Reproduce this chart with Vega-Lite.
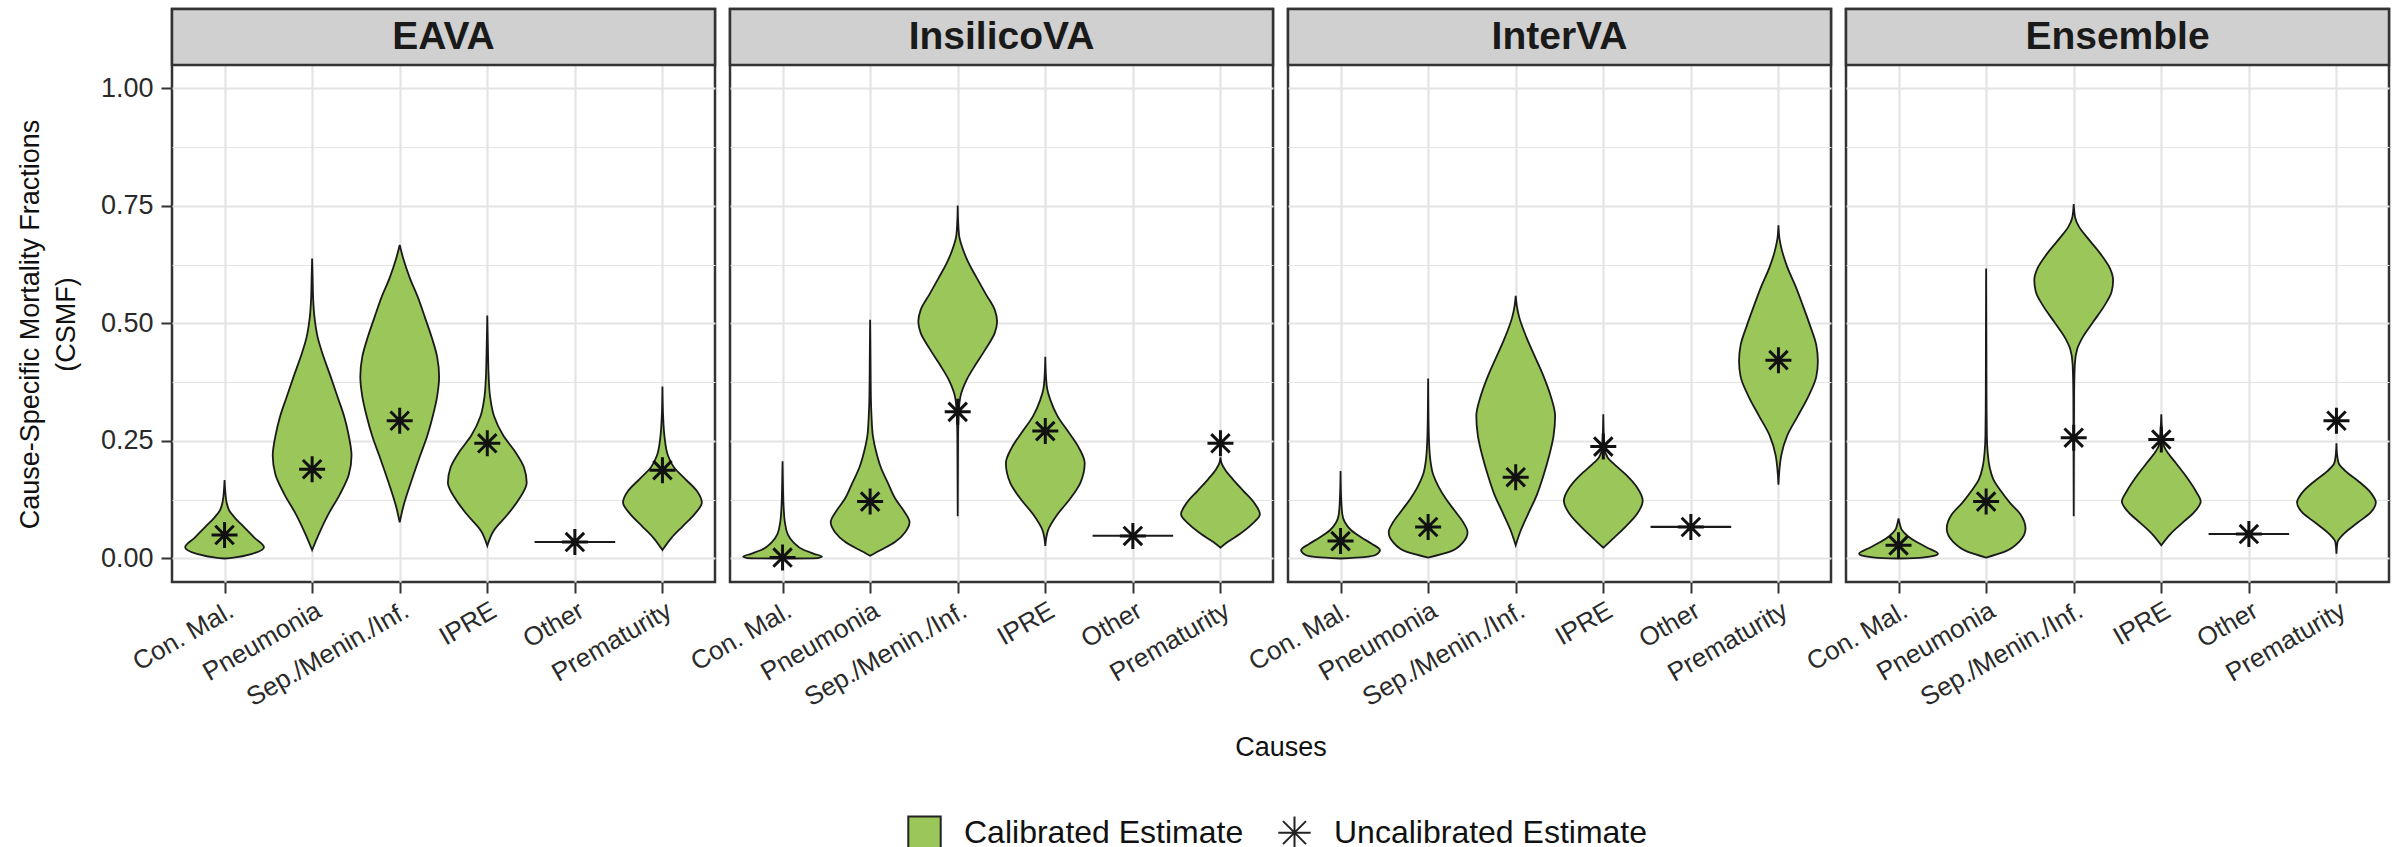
{
"$schema": "https://vega.github.io/schema/vega-lite/v6.json",
"padding": {"left": 16, "top": 6, "right": 18, "bottom": 0},
"bounds": "flush",
"config": {
  "font": "Liberation Sans",
  "view": {"stroke": "#333333", "strokeWidth": 2.5}
},
"datasets": {
"v": [
{"method":"EAVA","cause":"Con. Mal.","series":"Calibrated Estimate","value":0,"density":0},
{"method":"EAVA","cause":"Con. Mal.","series":"Calibrated Estimate","value":0.002,"density":0.23},
{"method":"EAVA","cause":"Con. Mal.","series":"Calibrated Estimate","value":0.01,"density":0.7},
{"method":"EAVA","cause":"Con. Mal.","series":"Calibrated Estimate","value":0.024,"density":1},
{"method":"EAVA","cause":"Con. Mal.","series":"Calibrated Estimate","value":0.044,"density":0.76},
{"method":"EAVA","cause":"Con. Mal.","series":"Calibrated Estimate","value":0.069,"density":0.47},
{"method":"EAVA","cause":"Con. Mal.","series":"Calibrated Estimate","value":0.085,"density":0.28},
{"method":"EAVA","cause":"Con. Mal.","series":"Calibrated Estimate","value":0.102,"density":0.12},
{"method":"EAVA","cause":"Con. Mal.","series":"Calibrated Estimate","value":0.12,"density":0.05},
{"method":"EAVA","cause":"Con. Mal.","series":"Calibrated Estimate","value":0.14,"density":0.02},
{"method":"EAVA","cause":"Con. Mal.","series":"Calibrated Estimate","value":0.167,"density":0},
{"method":"EAVA","cause":"Pneumonia","series":"Calibrated Estimate","value":0.018,"density":0},
{"method":"EAVA","cause":"Pneumonia","series":"Calibrated Estimate","value":0.052,"density":0.17},
{"method":"EAVA","cause":"Pneumonia","series":"Calibrated Estimate","value":0.094,"density":0.41},
{"method":"EAVA","cause":"Pneumonia","series":"Calibrated Estimate","value":0.136,"density":0.7},
{"method":"EAVA","cause":"Pneumonia","series":"Calibrated Estimate","value":0.178,"density":0.93},
{"method":"EAVA","cause":"Pneumonia","series":"Calibrated Estimate","value":0.219,"density":1},
{"method":"EAVA","cause":"Pneumonia","series":"Calibrated Estimate","value":0.261,"density":0.93},
{"method":"EAVA","cause":"Pneumonia","series":"Calibrated Estimate","value":0.303,"density":0.81},
{"method":"EAVA","cause":"Pneumonia","series":"Calibrated Estimate","value":0.345,"density":0.64},
{"method":"EAVA","cause":"Pneumonia","series":"Calibrated Estimate","value":0.387,"density":0.47},
{"method":"EAVA","cause":"Pneumonia","series":"Calibrated Estimate","value":0.429,"density":0.29},
{"method":"EAVA","cause":"Pneumonia","series":"Calibrated Estimate","value":0.471,"density":0.14},
{"method":"EAVA","cause":"Pneumonia","series":"Calibrated Estimate","value":0.513,"density":0.06},
{"method":"EAVA","cause":"Pneumonia","series":"Calibrated Estimate","value":0.554,"density":0.025},
{"method":"EAVA","cause":"Pneumonia","series":"Calibrated Estimate","value":0.6,"density":0.012},
{"method":"EAVA","cause":"Pneumonia","series":"Calibrated Estimate","value":0.638,"density":0},
{"method":"EAVA","cause":"Sep./Menin./Inf.","series":"Calibrated Estimate","value":0.077,"density":0},
{"method":"EAVA","cause":"Sep./Menin./Inf.","series":"Calibrated Estimate","value":0.11,"density":0.09},
{"method":"EAVA","cause":"Sep./Menin./Inf.","series":"Calibrated Estimate","value":0.178,"density":0.35},
{"method":"EAVA","cause":"Sep./Menin./Inf.","series":"Calibrated Estimate","value":0.219,"density":0.52},
{"method":"EAVA","cause":"Sep./Menin./Inf.","series":"Calibrated Estimate","value":0.261,"density":0.7},
{"method":"EAVA","cause":"Sep./Menin./Inf.","series":"Calibrated Estimate","value":0.303,"density":0.84},
{"method":"EAVA","cause":"Sep./Menin./Inf.","series":"Calibrated Estimate","value":0.345,"density":0.95},
{"method":"EAVA","cause":"Sep./Menin./Inf.","series":"Calibrated Estimate","value":0.387,"density":1},
{"method":"EAVA","cause":"Sep./Menin./Inf.","series":"Calibrated Estimate","value":0.429,"density":0.95},
{"method":"EAVA","cause":"Sep./Menin./Inf.","series":"Calibrated Estimate","value":0.471,"density":0.81},
{"method":"EAVA","cause":"Sep./Menin./Inf.","series":"Calibrated Estimate","value":0.513,"density":0.64},
{"method":"EAVA","cause":"Sep./Menin./Inf.","series":"Calibrated Estimate","value":0.554,"density":0.47},
{"method":"EAVA","cause":"Sep./Menin./Inf.","series":"Calibrated Estimate","value":0.596,"density":0.26},
{"method":"EAVA","cause":"Sep./Menin./Inf.","series":"Calibrated Estimate","value":0.638,"density":0.09},
{"method":"EAVA","cause":"Sep./Menin./Inf.","series":"Calibrated Estimate","value":0.667,"density":0},
{"method":"EAVA","cause":"IPRE","series":"Calibrated Estimate","value":0.027,"density":0},
{"method":"EAVA","cause":"IPRE","series":"Calibrated Estimate","value":0.06,"density":0.17},
{"method":"EAVA","cause":"IPRE","series":"Calibrated Estimate","value":0.094,"density":0.52},
{"method":"EAVA","cause":"IPRE","series":"Calibrated Estimate","value":0.127,"density":0.81},
{"method":"EAVA","cause":"IPRE","series":"Calibrated Estimate","value":0.161,"density":1},
{"method":"EAVA","cause":"IPRE","series":"Calibrated Estimate","value":0.194,"density":0.93},
{"method":"EAVA","cause":"IPRE","series":"Calibrated Estimate","value":0.228,"density":0.7},
{"method":"EAVA","cause":"IPRE","series":"Calibrated Estimate","value":0.261,"density":0.41},
{"method":"EAVA","cause":"IPRE","series":"Calibrated Estimate","value":0.303,"density":0.17},
{"method":"EAVA","cause":"IPRE","series":"Calibrated Estimate","value":0.345,"density":0.07},
{"method":"EAVA","cause":"IPRE","series":"Calibrated Estimate","value":0.387,"density":0.035},
{"method":"EAVA","cause":"IPRE","series":"Calibrated Estimate","value":0.43,"density":0.02},
{"method":"EAVA","cause":"IPRE","series":"Calibrated Estimate","value":0.517,"density":0},
{"method":"EAVA","cause":"Other","series":"Calibrated Estimate","value":0.035,"density":1},
{"method":"EAVA","cause":"Other","series":"Calibrated Estimate","value":0.0355,"density":1},
{"method":"EAVA","cause":"Prematurity","series":"Calibrated Estimate","value":0.018,"density":0},
{"method":"EAVA","cause":"Prematurity","series":"Calibrated Estimate","value":0.044,"density":0.23},
{"method":"EAVA","cause":"Prematurity","series":"Calibrated Estimate","value":0.069,"density":0.52},
{"method":"EAVA","cause":"Prematurity","series":"Calibrated Estimate","value":0.094,"density":0.81},
{"method":"EAVA","cause":"Prematurity","series":"Calibrated Estimate","value":0.119,"density":1},
{"method":"EAVA","cause":"Prematurity","series":"Calibrated Estimate","value":0.144,"density":0.87},
{"method":"EAVA","cause":"Prematurity","series":"Calibrated Estimate","value":0.169,"density":0.58},
{"method":"EAVA","cause":"Prematurity","series":"Calibrated Estimate","value":0.194,"density":0.29},
{"method":"EAVA","cause":"Prematurity","series":"Calibrated Estimate","value":0.219,"density":0.14},
{"method":"EAVA","cause":"Prematurity","series":"Calibrated Estimate","value":0.261,"density":0.05},
{"method":"EAVA","cause":"Prematurity","series":"Calibrated Estimate","value":0.303,"density":0.017},
{"method":"EAVA","cause":"Prematurity","series":"Calibrated Estimate","value":0.366,"density":0},

{"method":"InsilicoVA","cause":"Con. Mal.","series":"Calibrated Estimate","value":0.0,"density":0},
{"method":"InsilicoVA","cause":"Con. Mal.","series":"Calibrated Estimate","value":0.001,"density":0.9},
{"method":"InsilicoVA","cause":"Con. Mal.","series":"Calibrated Estimate","value":0.004,"density":1},
{"method":"InsilicoVA","cause":"Con. Mal.","series":"Calibrated Estimate","value":0.01,"density":0.8},
{"method":"InsilicoVA","cause":"Con. Mal.","series":"Calibrated Estimate","value":0.018,"density":0.54},
{"method":"InsilicoVA","cause":"Con. Mal.","series":"Calibrated Estimate","value":0.035,"density":0.27},
{"method":"InsilicoVA","cause":"Con. Mal.","series":"Calibrated Estimate","value":0.052,"density":0.13},
{"method":"InsilicoVA","cause":"Con. Mal.","series":"Calibrated Estimate","value":0.077,"density":0.06},
{"method":"InsilicoVA","cause":"Con. Mal.","series":"Calibrated Estimate","value":0.11,"density":0.027},
{"method":"InsilicoVA","cause":"Con. Mal.","series":"Calibrated Estimate","value":0.16,"density":0.01},
{"method":"InsilicoVA","cause":"Con. Mal.","series":"Calibrated Estimate","value":0.207,"density":0},
{"method":"InsilicoVA","cause":"Pneumonia","series":"Calibrated Estimate","value":0.006,"density":0},
{"method":"InsilicoVA","cause":"Pneumonia","series":"Calibrated Estimate","value":0.018,"density":0.27},
{"method":"InsilicoVA","cause":"Pneumonia","series":"Calibrated Estimate","value":0.035,"density":0.63},
{"method":"InsilicoVA","cause":"Pneumonia","series":"Calibrated Estimate","value":0.056,"density":0.89},
{"method":"InsilicoVA","cause":"Pneumonia","series":"Calibrated Estimate","value":0.077,"density":1},
{"method":"InsilicoVA","cause":"Pneumonia","series":"Calibrated Estimate","value":0.102,"density":0.85},
{"method":"InsilicoVA","cause":"Pneumonia","series":"Calibrated Estimate","value":0.127,"density":0.64},
{"method":"InsilicoVA","cause":"Pneumonia","series":"Calibrated Estimate","value":0.161,"density":0.45},
{"method":"InsilicoVA","cause":"Pneumonia","series":"Calibrated Estimate","value":0.194,"density":0.27},
{"method":"InsilicoVA","cause":"Pneumonia","series":"Calibrated Estimate","value":0.228,"density":0.15},
{"method":"InsilicoVA","cause":"Pneumonia","series":"Calibrated Estimate","value":0.261,"density":0.07},
{"method":"InsilicoVA","cause":"Pneumonia","series":"Calibrated Estimate","value":0.303,"density":0.035},
{"method":"InsilicoVA","cause":"Pneumonia","series":"Calibrated Estimate","value":0.345,"density":0.018},
{"method":"InsilicoVA","cause":"Pneumonia","series":"Calibrated Estimate","value":0.43,"density":0.009},
{"method":"InsilicoVA","cause":"Pneumonia","series":"Calibrated Estimate","value":0.508,"density":0},
{"method":"InsilicoVA","cause":"Sep./Menin./Inf.","series":"Calibrated Estimate","value":0.09,"density":0},
{"method":"InsilicoVA","cause":"Sep./Menin./Inf.","series":"Calibrated Estimate","value":0.261,"density":0.009},
{"method":"InsilicoVA","cause":"Sep./Menin./Inf.","series":"Calibrated Estimate","value":0.312,"density":0.027},
{"method":"InsilicoVA","cause":"Sep./Menin./Inf.","series":"Calibrated Estimate","value":0.345,"density":0.07},
{"method":"InsilicoVA","cause":"Sep./Menin./Inf.","series":"Calibrated Estimate","value":0.379,"density":0.22},
{"method":"InsilicoVA","cause":"Sep./Menin./Inf.","series":"Calibrated Estimate","value":0.412,"density":0.45},
{"method":"InsilicoVA","cause":"Sep./Menin./Inf.","series":"Calibrated Estimate","value":0.446,"density":0.71},
{"method":"InsilicoVA","cause":"Sep./Menin./Inf.","series":"Calibrated Estimate","value":0.48,"density":0.94},
{"method":"InsilicoVA","cause":"Sep./Menin./Inf.","series":"Calibrated Estimate","value":0.504,"density":1},
{"method":"InsilicoVA","cause":"Sep./Menin./Inf.","series":"Calibrated Estimate","value":0.529,"density":0.94},
{"method":"InsilicoVA","cause":"Sep./Menin./Inf.","series":"Calibrated Estimate","value":0.563,"density":0.71},
{"method":"InsilicoVA","cause":"Sep./Menin./Inf.","series":"Calibrated Estimate","value":0.596,"density":0.49},
{"method":"InsilicoVA","cause":"Sep./Menin./Inf.","series":"Calibrated Estimate","value":0.63,"density":0.27},
{"method":"InsilicoVA","cause":"Sep./Menin./Inf.","series":"Calibrated Estimate","value":0.663,"density":0.11},
{"method":"InsilicoVA","cause":"Sep./Menin./Inf.","series":"Calibrated Estimate","value":0.687,"density":0.036},
{"method":"InsilicoVA","cause":"Sep./Menin./Inf.","series":"Calibrated Estimate","value":0.72,"density":0.009},
{"method":"InsilicoVA","cause":"Sep./Menin./Inf.","series":"Calibrated Estimate","value":0.751,"density":0},
{"method":"InsilicoVA","cause":"IPRE","series":"Calibrated Estimate","value":0.027,"density":0},
{"method":"InsilicoVA","cause":"IPRE","series":"Calibrated Estimate","value":0.06,"density":0.07},
{"method":"InsilicoVA","cause":"IPRE","series":"Calibrated Estimate","value":0.094,"density":0.31},
{"method":"InsilicoVA","cause":"IPRE","series":"Calibrated Estimate","value":0.127,"density":0.63},
{"method":"InsilicoVA","cause":"IPRE","series":"Calibrated Estimate","value":0.161,"density":0.89},
{"method":"InsilicoVA","cause":"IPRE","series":"Calibrated Estimate","value":0.203,"density":1},
{"method":"InsilicoVA","cause":"IPRE","series":"Calibrated Estimate","value":0.236,"density":0.85},
{"method":"InsilicoVA","cause":"IPRE","series":"Calibrated Estimate","value":0.27,"density":0.58},
{"method":"InsilicoVA","cause":"IPRE","series":"Calibrated Estimate","value":0.303,"density":0.31},
{"method":"InsilicoVA","cause":"IPRE","series":"Calibrated Estimate","value":0.337,"density":0.13},
{"method":"InsilicoVA","cause":"IPRE","series":"Calibrated Estimate","value":0.362,"density":0.045},
{"method":"InsilicoVA","cause":"IPRE","series":"Calibrated Estimate","value":0.387,"density":0.018},
{"method":"InsilicoVA","cause":"IPRE","series":"Calibrated Estimate","value":0.429,"density":0},
{"method":"InsilicoVA","cause":"Other","series":"Calibrated Estimate","value":0.048,"density":1},
{"method":"InsilicoVA","cause":"Other","series":"Calibrated Estimate","value":0.0485,"density":1},
{"method":"InsilicoVA","cause":"Prematurity","series":"Calibrated Estimate","value":0.023,"density":0},
{"method":"InsilicoVA","cause":"Prematurity","series":"Calibrated Estimate","value":0.035,"density":0.18},
{"method":"InsilicoVA","cause":"Prematurity","series":"Calibrated Estimate","value":0.052,"density":0.49},
{"method":"InsilicoVA","cause":"Prematurity","series":"Calibrated Estimate","value":0.073,"density":0.8},
{"method":"InsilicoVA","cause":"Prematurity","series":"Calibrated Estimate","value":0.094,"density":1},
{"method":"InsilicoVA","cause":"Prematurity","series":"Calibrated Estimate","value":0.119,"density":0.85},
{"method":"InsilicoVA","cause":"Prematurity","series":"Calibrated Estimate","value":0.144,"density":0.58},
{"method":"InsilicoVA","cause":"Prematurity","series":"Calibrated Estimate","value":0.169,"density":0.31},
{"method":"InsilicoVA","cause":"Prematurity","series":"Calibrated Estimate","value":0.19,"density":0.11},
{"method":"InsilicoVA","cause":"Prematurity","series":"Calibrated Estimate","value":0.203,"density":0.027},
{"method":"InsilicoVA","cause":"Prematurity","series":"Calibrated Estimate","value":0.215,"density":0},

{"method":"InterVA","cause":"Con. Mal.","series":"Calibrated Estimate","value":0.0,"density":0},
{"method":"InterVA","cause":"Con. Mal.","series":"Calibrated Estimate","value":0.003,"density":0.6},
{"method":"InterVA","cause":"Con. Mal.","series":"Calibrated Estimate","value":0.008,"density":0.9},
{"method":"InterVA","cause":"Con. Mal.","series":"Calibrated Estimate","value":0.018,"density":1},
{"method":"InterVA","cause":"Con. Mal.","series":"Calibrated Estimate","value":0.031,"density":0.8},
{"method":"InterVA","cause":"Con. Mal.","series":"Calibrated Estimate","value":0.044,"density":0.54},
{"method":"InterVA","cause":"Con. Mal.","series":"Calibrated Estimate","value":0.06,"density":0.27},
{"method":"InterVA","cause":"Con. Mal.","series":"Calibrated Estimate","value":0.077,"density":0.11},
{"method":"InterVA","cause":"Con. Mal.","series":"Calibrated Estimate","value":0.094,"density":0.045},
{"method":"InterVA","cause":"Con. Mal.","series":"Calibrated Estimate","value":0.13,"density":0.015},
{"method":"InterVA","cause":"Con. Mal.","series":"Calibrated Estimate","value":0.186,"density":0},
{"method":"InterVA","cause":"Pneumonia","series":"Calibrated Estimate","value":0.002,"density":0},
{"method":"InterVA","cause":"Pneumonia","series":"Calibrated Estimate","value":0.014,"density":0.54},
{"method":"InterVA","cause":"Pneumonia","series":"Calibrated Estimate","value":0.035,"density":0.89},
{"method":"InterVA","cause":"Pneumonia","series":"Calibrated Estimate","value":0.056,"density":1},
{"method":"InterVA","cause":"Pneumonia","series":"Calibrated Estimate","value":0.077,"density":0.89},
{"method":"InterVA","cause":"Pneumonia","series":"Calibrated Estimate","value":0.102,"density":0.67},
{"method":"InterVA","cause":"Pneumonia","series":"Calibrated Estimate","value":0.127,"density":0.45},
{"method":"InterVA","cause":"Pneumonia","series":"Calibrated Estimate","value":0.152,"density":0.27},
{"method":"InterVA","cause":"Pneumonia","series":"Calibrated Estimate","value":0.178,"density":0.13},
{"method":"InterVA","cause":"Pneumonia","series":"Calibrated Estimate","value":0.211,"density":0.054},
{"method":"InterVA","cause":"Pneumonia","series":"Calibrated Estimate","value":0.261,"density":0.018},
{"method":"InterVA","cause":"Pneumonia","series":"Calibrated Estimate","value":0.33,"density":0.005},
{"method":"InterVA","cause":"Pneumonia","series":"Calibrated Estimate","value":0.383,"density":0},
{"method":"InterVA","cause":"Sep./Menin./Inf.","series":"Calibrated Estimate","value":0.028,"density":0},
{"method":"InterVA","cause":"Sep./Menin./Inf.","series":"Calibrated Estimate","value":0.06,"density":0.13},
{"method":"InterVA","cause":"Sep./Menin./Inf.","series":"Calibrated Estimate","value":0.094,"density":0.31},
{"method":"InterVA","cause":"Sep./Menin./Inf.","series":"Calibrated Estimate","value":0.136,"density":0.54},
{"method":"InterVA","cause":"Sep./Menin./Inf.","series":"Calibrated Estimate","value":0.178,"density":0.71},
{"method":"InterVA","cause":"Sep./Menin./Inf.","series":"Calibrated Estimate","value":0.219,"density":0.85},
{"method":"InterVA","cause":"Sep./Menin./Inf.","series":"Calibrated Estimate","value":0.261,"density":0.96},
{"method":"InterVA","cause":"Sep./Menin./Inf.","series":"Calibrated Estimate","value":0.303,"density":1},
{"method":"InterVA","cause":"Sep./Menin./Inf.","series":"Calibrated Estimate","value":0.345,"density":0.89},
{"method":"InterVA","cause":"Sep./Menin./Inf.","series":"Calibrated Estimate","value":0.387,"density":0.71},
{"method":"InterVA","cause":"Sep./Menin./Inf.","series":"Calibrated Estimate","value":0.429,"density":0.49},
{"method":"InterVA","cause":"Sep./Menin./Inf.","series":"Calibrated Estimate","value":0.471,"density":0.27},
{"method":"InterVA","cause":"Sep./Menin./Inf.","series":"Calibrated Estimate","value":0.513,"density":0.09},
{"method":"InterVA","cause":"Sep./Menin./Inf.","series":"Calibrated Estimate","value":0.538,"density":0.027},
{"method":"InterVA","cause":"Sep./Menin./Inf.","series":"Calibrated Estimate","value":0.559,"density":0},
{"method":"InterVA","cause":"IPRE","series":"Calibrated Estimate","value":0.023,"density":0},
{"method":"InterVA","cause":"IPRE","series":"Calibrated Estimate","value":0.044,"density":0.27},
{"method":"InterVA","cause":"IPRE","series":"Calibrated Estimate","value":0.069,"density":0.58},
{"method":"InterVA","cause":"IPRE","series":"Calibrated Estimate","value":0.094,"density":0.85},
{"method":"InterVA","cause":"IPRE","series":"Calibrated Estimate","value":0.123,"density":1},
{"method":"InterVA","cause":"IPRE","series":"Calibrated Estimate","value":0.152,"density":0.85},
{"method":"InterVA","cause":"IPRE","series":"Calibrated Estimate","value":0.178,"density":0.58},
{"method":"InterVA","cause":"IPRE","series":"Calibrated Estimate","value":0.198,"density":0.31},
{"method":"InterVA","cause":"IPRE","series":"Calibrated Estimate","value":0.215,"density":0.11},
{"method":"InterVA","cause":"IPRE","series":"Calibrated Estimate","value":0.236,"density":0.027},
{"method":"InterVA","cause":"IPRE","series":"Calibrated Estimate","value":0.307,"density":0},
{"method":"InterVA","cause":"Other","series":"Calibrated Estimate","value":0.067,"density":1},
{"method":"InterVA","cause":"Other","series":"Calibrated Estimate","value":0.0675,"density":1},
{"method":"InterVA","cause":"Prematurity","series":"Calibrated Estimate","value":0.157,"density":0},
{"method":"InterVA","cause":"Prematurity","series":"Calibrated Estimate","value":0.219,"density":0.07},
{"method":"InterVA","cause":"Prematurity","series":"Calibrated Estimate","value":0.261,"density":0.22},
{"method":"InterVA","cause":"Prematurity","series":"Calibrated Estimate","value":0.303,"density":0.49},
{"method":"InterVA","cause":"Prematurity","series":"Calibrated Estimate","value":0.345,"density":0.76},
{"method":"InterVA","cause":"Prematurity","series":"Calibrated Estimate","value":0.387,"density":0.96},
{"method":"InterVA","cause":"Prematurity","series":"Calibrated Estimate","value":0.42,"density":1},
{"method":"InterVA","cause":"Prematurity","series":"Calibrated Estimate","value":0.454,"density":0.96},
{"method":"InterVA","cause":"Prematurity","series":"Calibrated Estimate","value":0.496,"density":0.8},
{"method":"InterVA","cause":"Prematurity","series":"Calibrated Estimate","value":0.538,"density":0.62},
{"method":"InterVA","cause":"Prematurity","series":"Calibrated Estimate","value":0.58,"density":0.43},
{"method":"InterVA","cause":"Prematurity","series":"Calibrated Estimate","value":0.621,"density":0.22},
{"method":"InterVA","cause":"Prematurity","series":"Calibrated Estimate","value":0.655,"density":0.09},
{"method":"InterVA","cause":"Prematurity","series":"Calibrated Estimate","value":0.68,"density":0.027},
{"method":"InterVA","cause":"Prematurity","series":"Calibrated Estimate","value":0.709,"density":0},

{"method":"Ensemble","cause":"Con. Mal.","series":"Calibrated Estimate","value":0.0,"density":0},
{"method":"Ensemble","cause":"Con. Mal.","series":"Calibrated Estimate","value":0.002,"density":0.6},
{"method":"Ensemble","cause":"Con. Mal.","series":"Calibrated Estimate","value":0.006,"density":0.92},
{"method":"Ensemble","cause":"Con. Mal.","series":"Calibrated Estimate","value":0.01,"density":1},
{"method":"Ensemble","cause":"Con. Mal.","series":"Calibrated Estimate","value":0.023,"density":0.73},
{"method":"Ensemble","cause":"Con. Mal.","series":"Calibrated Estimate","value":0.035,"density":0.46},
{"method":"Ensemble","cause":"Con. Mal.","series":"Calibrated Estimate","value":0.048,"density":0.23},
{"method":"Ensemble","cause":"Con. Mal.","series":"Calibrated Estimate","value":0.06,"density":0.09},
{"method":"Ensemble","cause":"Con. Mal.","series":"Calibrated Estimate","value":0.075,"density":0.027},
{"method":"Ensemble","cause":"Con. Mal.","series":"Calibrated Estimate","value":0.085,"density":0},
{"method":"Ensemble","cause":"Pneumonia","series":"Calibrated Estimate","value":0.002,"density":0},
{"method":"Ensemble","cause":"Pneumonia","series":"Calibrated Estimate","value":0.014,"density":0.46},
{"method":"Ensemble","cause":"Pneumonia","series":"Calibrated Estimate","value":0.035,"density":0.83},
{"method":"Ensemble","cause":"Pneumonia","series":"Calibrated Estimate","value":0.064,"density":1},
{"method":"Ensemble","cause":"Pneumonia","series":"Calibrated Estimate","value":0.094,"density":0.87},
{"method":"Ensemble","cause":"Pneumonia","series":"Calibrated Estimate","value":0.119,"density":0.6},
{"method":"Ensemble","cause":"Pneumonia","series":"Calibrated Estimate","value":0.144,"density":0.37},
{"method":"Ensemble","cause":"Pneumonia","series":"Calibrated Estimate","value":0.169,"density":0.18},
{"method":"Ensemble","cause":"Pneumonia","series":"Calibrated Estimate","value":0.194,"density":0.09},
{"method":"Ensemble","cause":"Pneumonia","series":"Calibrated Estimate","value":0.228,"density":0.037},
{"method":"Ensemble","cause":"Pneumonia","series":"Calibrated Estimate","value":0.261,"density":0.018},
{"method":"Ensemble","cause":"Pneumonia","series":"Calibrated Estimate","value":0.345,"density":0.009},
{"method":"Ensemble","cause":"Pneumonia","series":"Calibrated Estimate","value":0.45,"density":0.006},
{"method":"Ensemble","cause":"Pneumonia","series":"Calibrated Estimate","value":0.617,"density":0},
{"method":"Ensemble","cause":"Sep./Menin./Inf.","series":"Calibrated Estimate","value":0.09,"density":0},
{"method":"Ensemble","cause":"Sep./Menin./Inf.","series":"Calibrated Estimate","value":0.345,"density":0.009},
{"method":"Ensemble","cause":"Sep./Menin./Inf.","series":"Calibrated Estimate","value":0.412,"density":0.027},
{"method":"Ensemble","cause":"Sep./Menin./Inf.","series":"Calibrated Estimate","value":0.446,"density":0.09},
{"method":"Ensemble","cause":"Sep./Menin./Inf.","series":"Calibrated Estimate","value":0.471,"density":0.23},
{"method":"Ensemble","cause":"Sep./Menin./Inf.","series":"Calibrated Estimate","value":0.504,"density":0.5},
{"method":"Ensemble","cause":"Sep./Menin./Inf.","series":"Calibrated Estimate","value":0.538,"density":0.78},
{"method":"Ensemble","cause":"Sep./Menin./Inf.","series":"Calibrated Estimate","value":0.567,"density":0.96},
{"method":"Ensemble","cause":"Sep./Menin./Inf.","series":"Calibrated Estimate","value":0.592,"density":1},
{"method":"Ensemble","cause":"Sep./Menin./Inf.","series":"Calibrated Estimate","value":0.617,"density":0.92},
{"method":"Ensemble","cause":"Sep./Menin./Inf.","series":"Calibrated Estimate","value":0.647,"density":0.69},
{"method":"Ensemble","cause":"Sep./Menin./Inf.","series":"Calibrated Estimate","value":0.68,"density":0.37},
{"method":"Ensemble","cause":"Sep./Menin./Inf.","series":"Calibrated Estimate","value":0.705,"density":0.14},
{"method":"Ensemble","cause":"Sep./Menin./Inf.","series":"Calibrated Estimate","value":0.725,"density":0.037},
{"method":"Ensemble","cause":"Sep./Menin./Inf.","series":"Calibrated Estimate","value":0.754,"density":0},
{"method":"Ensemble","cause":"IPRE","series":"Calibrated Estimate","value":0.028,"density":0},
{"method":"Ensemble","cause":"IPRE","series":"Calibrated Estimate","value":0.052,"density":0.23},
{"method":"Ensemble","cause":"IPRE","series":"Calibrated Estimate","value":0.077,"density":0.55},
{"method":"Ensemble","cause":"IPRE","series":"Calibrated Estimate","value":0.098,"density":0.83},
{"method":"Ensemble","cause":"IPRE","series":"Calibrated Estimate","value":0.121,"density":1},
{"method":"Ensemble","cause":"IPRE","series":"Calibrated Estimate","value":0.144,"density":0.87},
{"method":"Ensemble","cause":"IPRE","series":"Calibrated Estimate","value":0.178,"density":0.6},
{"method":"Ensemble","cause":"IPRE","series":"Calibrated Estimate","value":0.203,"density":0.37},
{"method":"Ensemble","cause":"IPRE","series":"Calibrated Estimate","value":0.228,"density":0.14},
{"method":"Ensemble","cause":"IPRE","series":"Calibrated Estimate","value":0.245,"density":0.045},
{"method":"Ensemble","cause":"IPRE","series":"Calibrated Estimate","value":0.307,"density":0},
{"method":"Ensemble","cause":"Other","series":"Calibrated Estimate","value":0.052,"density":1},
{"method":"Ensemble","cause":"Other","series":"Calibrated Estimate","value":0.0525,"density":1},
{"method":"Ensemble","cause":"Prematurity","series":"Calibrated Estimate","value":0.01,"density":0},
{"method":"Ensemble","cause":"Prematurity","series":"Calibrated Estimate","value":0.035,"density":0.027},
{"method":"Ensemble","cause":"Prematurity","series":"Calibrated Estimate","value":0.052,"density":0.18},
{"method":"Ensemble","cause":"Prematurity","series":"Calibrated Estimate","value":0.077,"density":0.55},
{"method":"Ensemble","cause":"Prematurity","series":"Calibrated Estimate","value":0.098,"density":0.87},
{"method":"Ensemble","cause":"Prematurity","series":"Calibrated Estimate","value":0.119,"density":1},
{"method":"Ensemble","cause":"Prematurity","series":"Calibrated Estimate","value":0.14,"density":0.87},
{"method":"Ensemble","cause":"Prematurity","series":"Calibrated Estimate","value":0.165,"density":0.55},
{"method":"Ensemble","cause":"Prematurity","series":"Calibrated Estimate","value":0.186,"density":0.23},
{"method":"Ensemble","cause":"Prematurity","series":"Calibrated Estimate","value":0.203,"density":0.055},
{"method":"Ensemble","cause":"Prematurity","series":"Calibrated Estimate","value":0.22,"density":0.018},
{"method":"Ensemble","cause":"Prematurity","series":"Calibrated Estimate","value":0.245,"density":0},

{"method":"EAVA","cause":"Con. Mal.","series":"Uncalibrated Estimate","value":0.05},
{"method":"EAVA","cause":"Pneumonia","series":"Uncalibrated Estimate","value":0.19},
{"method":"EAVA","cause":"Sep./Menin./Inf.","series":"Uncalibrated Estimate","value":0.293},
{"method":"EAVA","cause":"IPRE","series":"Uncalibrated Estimate","value":0.245},
{"method":"EAVA","cause":"Other","series":"Uncalibrated Estimate","value":0.035},
{"method":"EAVA","cause":"Prematurity","series":"Uncalibrated Estimate","value":0.188},
{"method":"InsilicoVA","cause":"Con. Mal.","series":"Uncalibrated Estimate","value":0.002},
{"method":"InsilicoVA","cause":"Pneumonia","series":"Uncalibrated Estimate","value":0.121},
{"method":"InsilicoVA","cause":"Sep./Menin./Inf.","series":"Uncalibrated Estimate","value":0.312},
{"method":"InsilicoVA","cause":"IPRE","series":"Uncalibrated Estimate","value":0.271},
{"method":"InsilicoVA","cause":"Other","series":"Uncalibrated Estimate","value":0.048},
{"method":"InsilicoVA","cause":"Prematurity","series":"Uncalibrated Estimate","value":0.245},
{"method":"InterVA","cause":"Con. Mal.","series":"Uncalibrated Estimate","value":0.037},
{"method":"InterVA","cause":"Pneumonia","series":"Uncalibrated Estimate","value":0.067},
{"method":"InterVA","cause":"Sep./Menin./Inf.","series":"Uncalibrated Estimate","value":0.173},
{"method":"InterVA","cause":"IPRE","series":"Uncalibrated Estimate","value":0.238},
{"method":"InterVA","cause":"Other","series":"Uncalibrated Estimate","value":0.067},
{"method":"InterVA","cause":"Prematurity","series":"Uncalibrated Estimate","value":0.422},
{"method":"Ensemble","cause":"Con. Mal.","series":"Uncalibrated Estimate","value":0.028},
{"method":"Ensemble","cause":"Pneumonia","series":"Uncalibrated Estimate","value":0.121},
{"method":"Ensemble","cause":"Sep./Menin./Inf.","series":"Uncalibrated Estimate","value":0.257},
{"method":"Ensemble","cause":"IPRE","series":"Uncalibrated Estimate","value":0.253},
{"method":"Ensemble","cause":"Other","series":"Uncalibrated Estimate","value":0.052},
{"method":"Ensemble","cause":"Prematurity","series":"Uncalibrated Estimate","value":0.293},

{"method":"EAVA","series":"Panel"},
{"method":"InsilicoVA","series":"Panel"},
{"method":"InterVA","series":"Panel"},
{"method":"Ensemble","series":"Panel"}
]
},
"data": {"name": "v"},
"transform": [
  {"calculate": "indexof(['Con. Mal.','Pneumonia','Sep./Menin./Inf.','IPRE','Other','Prematurity'], datum.cause) + 1", "as": "pos"},
  {"calculate": "datum.pos - 0.45 * datum.density", "as": "left"},
  {"calculate": "datum.pos + 0.45 * datum.density", "as": "right"}
],
"facet": {
  "column": {
    "field": "method", "type": "nominal",
    "sort": ["EAVA", "InsilicoVA", "InterVA", "Ensemble"],
    "title": "Causes",
    "header": {"labels": false, "titleOrient": "bottom", "titleFontSize": 27, "titleFontWeight": "normal", "titleColor": "#111111", "titlePadding": 14, "titleFont": "Liberation Sans"}
  }
},
"spacing": {"column": 15},
"spec": {
  "width": 543,
  "height": 573,
  "layer": [
    {
      "transform": [{"filter": "datum.series === 'Calibrated Estimate'"}],
      "mark": {"type": "area", "orient": "horizontal", "interpolate": "monotone", "stroke": "#1a1a1a", "strokeWidth": 1.8, "opacity": 1},
      "encoding": {
        "y": {
          "field": "value", "type": "quantitative",
          "title": ["Cause-Specific Mortality Fractions", "(CSMF)"],
          "scale": {"domain": [-0.05, 1.169], "nice": false, "zero": false},
          "axis": {
            "titleFontSize": 27, "titleFontWeight": "normal", "titleColor": "#111111", "titleLineHeight": 36, "titlePadding": 20, "titleY": 315,
            "values": [0, 0.125, 0.25, 0.375, 0.5, 0.625, 0.75, 0.875, 1],
            "labelExpr": "datum.value % 0.25 === 0 ? format(datum.value, '.2f') : ''",
            "labelFontSize": 27, "labelColor": "#2a2a2a", "labelPadding": 8,
            "tickSize": 11, "tickWidth": 2, "tickColor": "#333333",
            "tickOpacity": {"condition": {"test": "datum.value % 0.25 !== 0", "value": 0}, "value": 1},
            "domain": false,
            "grid": true, "gridColor": "#e4e4e4",
            "gridWidth": {"condition": {"test": "datum.value % 0.25 !== 0", "value": 1.2}, "value": 2.2}
          }
        },
        "x": {
          "field": "left", "type": "quantitative",
          "title": null,
          "scale": {"domain": [0.4, 6.6], "nice": false, "zero": false},
          "axis": {
            "values": [1, 2, 3, 4, 5, 6],
            "labelExpr": "['Con. Mal.','Pneumonia','Sep./Menin./Inf.','IPRE','Other','Prematurity'][datum.value - 1]",
            "labelAngle": -30, "labelAlign": "right", "labelBaseline": "top",
            "labelOverlap": false, "labelLimit": 0, "labelBound": false,
            "labelFontSize": 26, "labelColor": "#2a2a2a", "labelPadding": 4,
            "tickSize": 11, "tickWidth": 2, "tickColor": "#333333",
            "domain": false, "grid": true, "gridColor": "#e4e4e4", "gridWidth": 2.2
          }
        },
        "x2": {"field": "right"},
        "detail": {"field": "cause"},
        "fill": {
          "field": "series", "type": "nominal",
          "scale": {"domain": ["Calibrated Estimate", "Uncalibrated Estimate"], "range": ["#9bc75a", "transparent"]},
          "legend": {"title": null, "orient": "none", "legendX": 735, "legendY": 806, "direction": "horizontal", "labelFontSize": 32, "labelLimit": 0, "labelColor": "#111111", "symbolSize": 1050, "symbolStrokeColor": "#222222", "symbolStrokeWidth": 2, "columnPadding": 30, "labelOffset": 22}
        }
      }
    },
    {
      "transform": [{"filter": "datum.series === 'Panel'"}],
      "mark": {"type": "rect", "fill": "#d0d0d0", "stroke": "#333333", "strokeWidth": 2.5},
      "encoding": {
        "x": {"datum": 0.4, "type": "quantitative", "title": null},
        "x2": {"datum": 6.6},
        "y": {"datum": 1.05, "type": "quantitative", "title": ["Cause-Specific Mortality Fractions", "(CSMF)"]},
        "y2": {"datum": 1.169}
      }
    },
    {
      "transform": [{"filter": "datum.series === 'Panel'"}],
      "mark": {"type": "text", "fontSize": 39, "fontWeight": "bold", "color": "#1a1a1a", "baseline": "middle", "align": "center"},
      "encoding": {
        "x": {"datum": 3.5, "type": "quantitative", "title": null},
        "y": {"datum": 1.11, "type": "quantitative", "title": ["Cause-Specific Mortality Fractions", "(CSMF)"]},
        "text": {"field": "method"}
      }
    },
    {
      "transform": [{"filter": "datum.series === 'Uncalibrated Estimate'"}],
      "mark": {"type": "point", "filled": false, "stroke": "#111111", "strokeWidth": 3, "size": 676, "opacity": 1},
      "encoding": {
        "x": {"field": "pos", "type": "quantitative", "title": null},
        "y": {"field": "value", "type": "quantitative", "title": ["Cause-Specific Mortality Fractions", "(CSMF)"]},
        "shape": {
          "field": "series", "type": "nominal",
          "scale": {"domain": ["Calibrated Estimate", "Uncalibrated Estimate"], "range": ["square", "M0,-1L0,1M-1,0L1,0M-0.71,-0.71L0.71,0.71M-0.71,0.71L0.71,-0.71"]},
          "legend": {"title": null, "orient": "none", "legendX": 735, "legendY": 806, "direction": "horizontal", "labelFontSize": 32, "labelLimit": 0, "labelColor": "#111111", "symbolSize": 1050, "symbolStrokeColor": "#222222", "symbolStrokeWidth": 2, "columnPadding": 30, "labelOffset": 22}
        }
      }
    }
  ]
}
}
